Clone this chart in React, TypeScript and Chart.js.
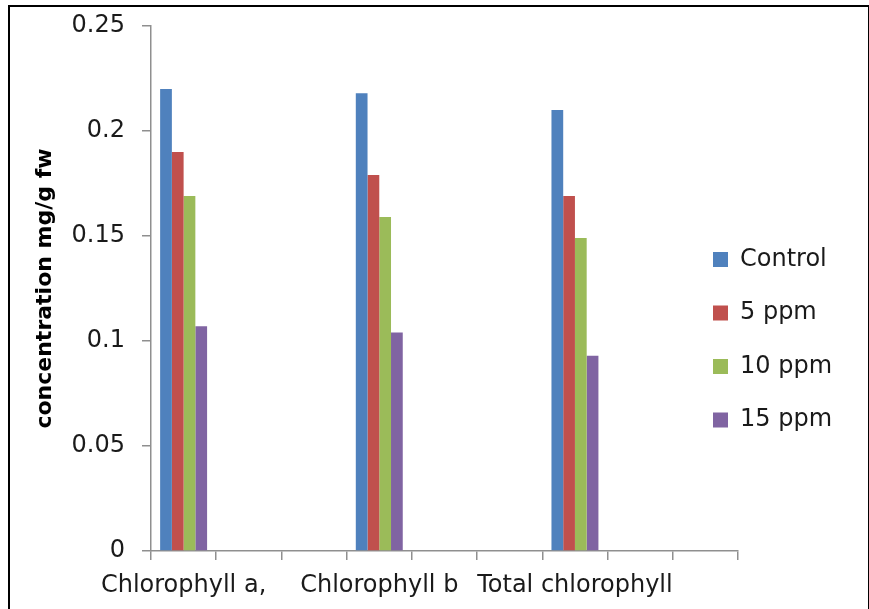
import React, { useEffect, useRef } from 'react';
import { Chart, registerables } from 'chart.js';

Chart.register(...registerables);

// ---- data ----
const categories = ['Chlorophyll a,', '', '', 'Chlorophyll b', '', '', 'Total chlorophyll', '', ''];
const seriesNames = ['Control', '5 ppm', '10 ppm', '15 ppm'];
const control = [0.22, null, null, 0.218, null, null, 0.21, null, null];
const ppm5 = [0.19, null, null, 0.179, null, null, 0.169, null, null];
const ppm10 = [0.169, null, null, 0.159, null, null, 0.149, null, null];
const ppm15 = [0.107, null, null, 0.104, null, null, 0.093, null, null];
const yTickLabels = ['0', '0.05', '0.1', '0.15', '0.2', '0.25'];
const yTitle = 'concentration mg/g fw';
const seriesColors = ['#4F81BD', '#C0504D', '#9BBB59', '#8064A2'];

const FONT = "'DejaVu Sans', sans-serif";
const AXIS = '#8f8f8f';
const TEXT = '#1a1a1a';

const legendPlacer = {
  id: 'legendPlacer',
  afterLayout(chart: any) {
    const lg = chart.legend;
    if (!lg) return;
    const pad = lg.options.labels.padding;
    lg.left = 713 - pad;
    lg.right = lg.left + lg.width;
    lg.top = 218;
    lg.bottom = 609;
    lg.height = lg.bottom - lg.top;
  },
};

export default function App() {
  const ref = useRef<HTMLCanvasElement | null>(null);

  useEffect(() => {
    if (!ref.current) return;
    const seriesData = [control, ppm5, ppm10, ppm15];
    const chart = new Chart(ref.current, {
      type: 'bar',
      data: {
        labels: categories,
        datasets: seriesNames.map((name, i) => ({
          label: name,
          data: seriesData[i],
          backgroundColor: seriesColors[i],
          borderWidth: 0,
          categoryPercentage: 0.72,
          barPercentage: 1,
        })),
      },
      plugins: [legendPlacer],
      options: {
        responsive: false,
        animation: false,
        devicePixelRatio: 1,
        layout: { padding: { left: 0, top: 26, right: 131, bottom: 0 } },
        plugins: {
          tooltip: { enabled: false },
          legend: {
            position: 'chartArea',
            align: 'start',
            labels: {
              boxWidth: 15,
              boxHeight: 15,
              padding: 29.5,
              color: TEXT,
              font: { family: FONT, size: 24 },
            },
          },
        },
        scales: {
          x: {
            offset: true,
            grid: {
              display: true,
              offset: true,
              drawOnChartArea: false,
              drawTicks: true,
              tickLength: 9,
              color: AXIS,
              lineWidth: 1.5,
            },
            border: { display: true, color: AXIS, width: 1.5 },
            ticks: {
              autoSkip: false,
              maxRotation: 0,
              minRotation: 0,
              padding: 11,
              color: TEXT,
              font: { family: FONT, size: 24 },
            },
            afterFit: (s: any) => {
              s.height = 58;
              s.paddingLeft = 0;
              s.paddingRight = 0;
            },
          },
          y: {
            min: 0,
            max: 0.25,
            grid: {
              display: true,
              drawOnChartArea: false,
              drawTicks: true,
              tickLength: 9,
              color: AXIS,
              lineWidth: 1.5,
            },
            border: { display: true, color: AXIS, width: 1.5 },
            ticks: {
              stepSize: 0.05,
              padding: 17,
              color: TEXT,
              font: { family: FONT, size: 24 },
              callback: (v: any, i: number) => yTickLabels[i] ?? String(v),
            },
            title: {
              display: true,
              text: yTitle,
              color: '#000',
              font: { family: FONT, size: 22, weight: 'bold' },
              padding: { top: 32, bottom: 0 },
            },
            afterFit: (s: any) => {
              s.width = 151;
              s.paddingTop = 0;
              s.paddingBottom = 0;
            },
          },
        },
      },
    } as any);
    return () => chart.destroy();
  }, []);

  return (
    <div
      style={{
        position: 'fixed',
        left: 0,
        top: 0,
        width: 869,
        height: 609,
        background: '#fff',
        overflow: 'hidden',
      }}
    >
      <canvas ref={ref} width={869} height={609} style={{ display: 'block' }} />
      <div
        style={{
          position: 'absolute',
          left: 8,
          top: 5,
          width: 858,
          height: 620,
          border: '2px solid #000',
          pointerEvents: 'none',
        }}
      />
    </div>
  );
}
